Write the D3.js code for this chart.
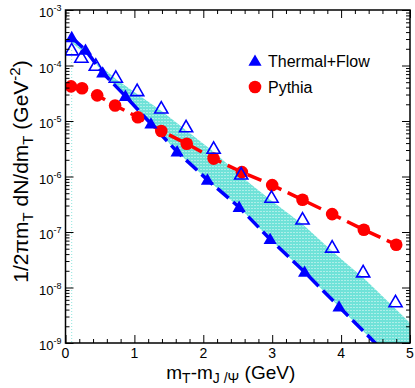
<!DOCTYPE html>
<html>
<head>
<meta charset="utf-8">
<script src="https://cdn.jsdelivr.net/npm/d3@7"></script>
<style>
  body { margin: 0; background: #fff; }
  svg { display: block; font-family: "Liberation Sans", Arial, sans-serif; }
</style>
</head>
<body>
<div id="chart-area"></div>
<script>
// values: mT - mJ/psi (GeV) and 1/2pi mT dN/dmT (GeV^-2)
var thermalX = [0.09, 0.29, 0.54, 0.87, 1.24, 1.62, 2.06, 2.52, 2.97, 3.47, 3.97];
var thermalY = [3.2e-4, 1.9e-4, 7.4e-5, 2.8e-5, 8.9e-6, 2.8e-6, 8.7e-7, 2.8e-7, 7.4e-8, 1.9e-8, 4.5e-9];
// where the dashed thermal curve leaves the frame
var thermalEndX = 4.6, thermalEndY = 7.4e-10;

var openX = [0.09, 0.23, 0.44, 0.73, 1.04, 1.39, 1.75, 2.15, 2.55, 2.99, 3.44, 3.87, 4.32, 4.79];
var openY = [1.9e-4, 1.4e-4, 1.0e-4, 6.1e-5, 3.5e-5, 1.7e-5, 7.8e-6, 3.2e-6, 1.1e-6, 4.2e-7, 1.7e-7, 5.3e-8, 1.9e-8, 5.5e-9];

var pythiaX = [0.08, 0.24, 0.46, 0.72, 1.05, 1.39, 1.76, 2.15, 2.56, 3.0, 3.44, 3.87, 4.33, 4.80];
var pythiaY = [4.2e-5, 3.9e-5, 2.9e-5, 1.9e-5, 1.17e-5, 6.6e-6, 3.9e-6, 2.1e-6, 1.2e-6, 7.0e-7, 3.8e-7, 2.1e-7, 1.1e-7, 5.9e-8];

// shaded band: upper edge, lower edge follows the thermal curve
var bandHiX = [0.09, 0.29, 0.5, 0.75, 1.05, 1.4, 1.75, 2.15, 2.55, 3.0, 3.45, 3.9, 4.35, 4.8, 5.0];
var bandHiY = [2.6e-4, 1.6e-4, 1.0e-4, 5.5e-5, 3.0e-5, 1.5e-5, 6.8e-6, 2.8e-6, 1.0e-6, 3.6e-7, 1.35e-7, 4.2e-8, 1.4e-8, 4.0e-9, 2.3e-9];
var bandLoX = thermalX.concat([5.0]);
var bandLoY = thermalY.concat([2.3e-10]);

var xMajor = [0, 1, 2, 3, 4, 5];
var yDecades = [-3, -4, -5, -6, -7, -8, -9];
var legendLabels = ["Thermal+Flow", "Pythia"];

var W = 415, H = 388;
var margin = { top: 10, right: 5, bottom: 45, left: 65.5 },
  width = W - margin.left - margin.right,
  height = H - margin.top - margin.bottom;

var root = d3.select("#chart-area").append("svg")
  .attr("width", W).attr("height", H);

var defs = root.append("defs");
var pat = defs.append("pattern")
  .attr("id", "dots").attr("width", 3).attr("height", 3)
  .attr("patternUnits", "userSpaceOnUse");
pat.append("rect").attr("width", 3).attr("height", 3).attr("fill", "#6fe2d8");
pat.append("rect").attr("width", 1).attr("height", 1).attr("fill", "#ffffff").attr("opacity", 0.85);
defs.append("clipPath").attr("id", "clip")
  .append("rect").attr("width", width).attr("height", height);

var svg = root.append("g")
  .attr("transform", "translate(" + margin.left + "," + margin.top + ")");

var x = d3.scaleLinear().domain([0, 5]).range([0, width]);
var y = d3.scaleLog().domain([1e-9, 1e-3]).range([height, 0]);

var plot = svg.append("g").attr("clip-path", "url(#clip)");

// band
var hiPts = bandHiX.map(function(v, i) { return [x(v), y(bandHiY[i])]; });
var loPts = bandLoX.map(function(v, i) { return [x(v), y(bandLoY[i])]; }).reverse();
plot.append("path")
  .attr("d", "M" + hiPts.concat(loPts).join("L") + "Z")
  .attr("fill", "url(#dots)");

// faint dotted edge under the band start
plot.append("line")
  .attr("x1", x(bandHiX[0])).attr("x2", x(bandHiX[0]))
  .attr("y1", y(openY[0])).attr("y2", height)
  .attr("stroke", "#8fe6de").attr("stroke-width", 1)
  .attr("stroke-dasharray", "1,2");

var line = d3.line().x(function(d) { return x(d[0]); }).y(function(d) { return y(d[1]); });

var thermalLine = thermalX.map(function(v, i) { return [v, thermalY[i]]; });
thermalLine.push([thermalEndX, thermalEndY]);
plot.append("path")
  .attr("d", line(thermalLine))
  .attr("fill", "none").attr("stroke", "#0000ff")
  .attr("stroke-width", 3.5).attr("stroke-dasharray", "15,6");

plot.append("path")
  .attr("d", line(pythiaX.map(function(v, i) { return [v, pythiaY[i]]; })))
  .attr("fill", "none").attr("stroke", "#ff0000")
  .attr("stroke-width", 3.5).attr("stroke-dasharray", "15,7");

var tri = d3.symbol().type(d3.symbolTriangle).size(75);

// pythia circles
plot.selectAll(".pyt").data(pythiaX).enter().append("circle")
  .attr("cx", function(d) { return x(d); })
  .attr("cy", function(d, i) { return y(pythiaY[i]); })
  .attr("r", 6.3).attr("fill", "#ff0000");

// filled triangles
plot.selectAll(".thf").data(thermalX).enter().append("path")
  .attr("d", tri)
  .attr("transform", function(d, i) { return "translate(" + x(d) + "," + (y(thermalY[i]) + 1) + ")"; })
  .attr("fill", "#0000ff");

// open triangles
plot.selectAll(".tho").data(openX).enter().append("path")
  .attr("d", tri)
  .attr("transform", function(d, i) { return "translate(" + x(d) + "," + (y(openY[i]) + 1) + ")"; })
  .attr("fill", "none").attr("stroke", "#0000ff").attr("stroke-width", 1.6);

// axes, ticks pointing inward on all four sides
var xMinor = d3.range(0, 5.01, 0.2).filter(function(v) { return Math.abs(v - Math.round(v)) > 1e-6; });
var yMinor = [];
yDecades.forEach(function(k) { for (var m = 2; m < 10; m++) yMinor.push(m * Math.pow(10, k)); });
yMinor = yMinor.filter(function(v) { return v < 1e-3 && v > 1e-9; });
var yMajor = yDecades.map(function(k) { return Math.pow(10, k); });

function axisG(gen, tr) {
  var g = svg.append("g").attr("transform", tr).call(gen);
  g.select(".domain").remove();
  g.selectAll("line").attr("stroke", "#000").attr("stroke-width", 1);
  g.selectAll("text").remove();
  return g;
}
axisG(d3.axisBottom(x).tickValues(xMajor).tickSize(-8), "translate(0," + height + ")");
axisG(d3.axisBottom(x).tickValues(xMinor).tickSize(-4), "translate(0," + height + ")");
axisG(d3.axisTop(x).tickValues(xMajor).tickSize(-8), "translate(0,0)");
axisG(d3.axisTop(x).tickValues(xMinor).tickSize(-4), "translate(0,0)");
axisG(d3.axisLeft(y).tickValues(yMajor).tickSize(-8), "translate(0,0)");
axisG(d3.axisLeft(y).tickValues(yMinor).tickSize(-4), "translate(0,0)");
axisG(d3.axisRight(y).tickValues(yMajor).tickSize(-8), "translate(" + width + ",0)");
axisG(d3.axisRight(y).tickValues(yMinor).tickSize(-4), "translate(" + width + ",0)");

svg.append("rect")
  .attr("width", width).attr("height", height)
  .attr("fill", "none").attr("stroke", "#000").attr("stroke-width", 1.5);

// tick labels
svg.selectAll(".xl").data(xMajor).enter().append("text")
  .attr("x", function(d) { return x(d); })
  .attr("y", height + 15)
  .attr("text-anchor", "middle")
  .attr("font-size", "14px")
  .text(function(d) { return d; });

var yl = svg.selectAll(".yl").data(yDecades).enter().append("text")
  .attr("x", -4)
  .attr("y", function(d) { return y(Math.pow(10, d)) + 7; })
  .attr("text-anchor", "end")
  .attr("font-size", "13px");
yl.append("tspan").text("10");
yl.append("tspan").attr("font-size", "9px").attr("dy", -6).text(function(d) { return d; });

// axis titles
var xt = svg.append("text")
  .attr("x", width / 2 - 7)
  .attr("y", height + 36)
  .attr("text-anchor", "middle")
  .attr("font-size", "19px");
xt.append("tspan").text("m");
xt.append("tspan").attr("font-size", "14px").attr("dy", 4).text("T");
xt.append("tspan").attr("dy", -4).text("-m");
xt.append("tspan").attr("font-size", "14px").attr("dy", 4).text("J /\u03A8");
xt.append("tspan").attr("dy", -4).text(" (GeV)");

var yt = svg.append("text")
  .attr("transform", "translate(" + (-38) + "," + (height / 2 - 5) + ") rotate(-90)")
  .attr("text-anchor", "middle")
  .attr("font-size", "21px");
yt.append("tspan").text("1/2\u03C0m");
yt.append("tspan").attr("font-size", "15px").attr("dy", 5).text("T");
yt.append("tspan").attr("dy", -5).text(" dN/dm");
yt.append("tspan").attr("font-size", "15px").attr("dy", 5).text("T");
yt.append("tspan").attr("dy", -5).text("  (GeV");
yt.append("tspan").attr("font-size", "15px").attr("dy", -8).text("-2");
yt.append("tspan").attr("dy", 8).text(")");

// legend
var lg = svg.append("g").attr("transform", "translate(" + (255 - margin.left) + "," + (61 - margin.top) + ")");
lg.append("path").attr("d", tri).attr("transform", "translate(0,1)").attr("fill", "#0000ff");
lg.append("circle").attr("cx", 0).attr("cy", 26).attr("r", 6.3).attr("fill", "#ff0000");
lg.selectAll(".lt").data(legendLabels).enter().append("text")
  .attr("x", 13)
  .attr("y", function(d, i) { return 6 + i * 26; })
  .attr("font-size", "16px")
  .text(function(d) { return d; });
</script>
</body>
</html>
